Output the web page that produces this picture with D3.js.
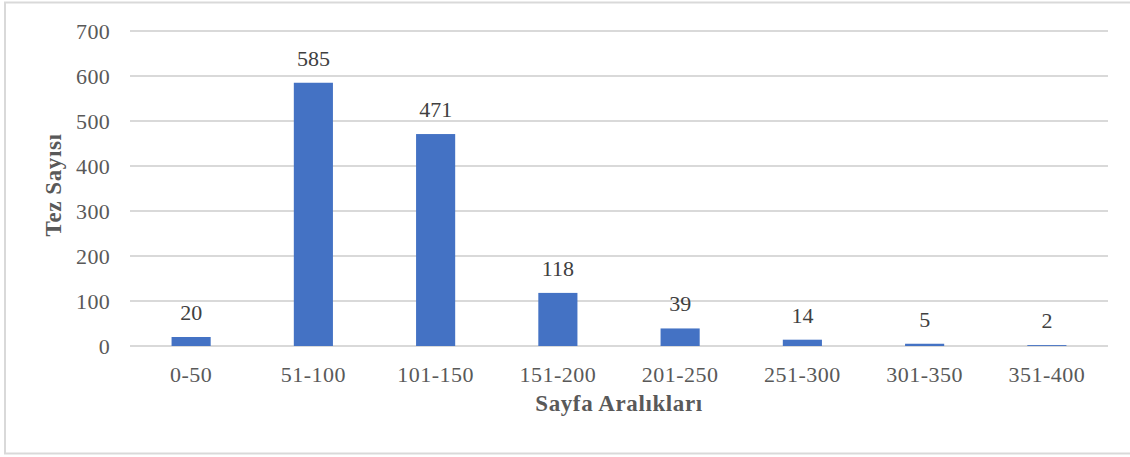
<!DOCTYPE html>
<html><head><meta charset="utf-8">
<script src="https://cdn.jsdelivr.net/npm/d3@7"></script>
<style>body{margin:0;background:#fff}svg{display:block}</style>
</head><body><svg id="c" width="1130" height="457"></svg>
<script>
const categories = ["0-50","51-100","101-150","151-200","201-250","251-300","301-350","351-400"];
const values = [20,585,471,118,39,14,5,2];
const yTicks = [0,100,200,300,400,500,600,700];
const xTitle = "Sayfa Aralıkları";
const yTitle = "Tez Sayısı";

const svg = d3.select("#c");
const font = "'Liberation Serif','Times New Roman',serif";
// chart border
svg.append("rect").attr("x",5).attr("y",2.5).attr("width",1140).attr("height",451)
  .attr("fill","none").attr("stroke","#d9d9d9").attr("stroke-width",2);

const m = {left:130, right:1108, top:31, bottom:346};
const x = d3.scaleBand().domain(categories).range([m.left,m.right]).paddingInner(0.68).paddingOuter(0.34);
const y = d3.scaleLinear().domain([0,700]).range([m.bottom,m.top]);

// gridlines
svg.append("g").selectAll("line").data(yTicks).join("line")
  .attr("x1",m.left).attr("x2",m.right).attr("y1",d=>y(d)).attr("y2",d=>y(d))
  .attr("stroke","#d9d9d9").attr("stroke-width",2);

// y axis labels
const yAxis = d3.axisLeft(y).tickValues(yTicks).tickSize(0).tickPadding(0);
const gy = svg.append("g").attr("transform",`translate(${m.left-20},0)`).call(yAxis);
gy.select(".domain").remove();
gy.selectAll("text").attr("font-family",font).attr("font-size",22).attr("fill","#595959").attr("letter-spacing","0.3px");

// x axis labels
const xAxis = d3.axisBottom(x).tickSize(0).tickPadding(0);
const gx = svg.append("g").attr("transform",`translate(0,${m.bottom+20})`).call(xAxis);
gx.select(".domain").remove();
gx.selectAll("text").attr("font-family",font).attr("font-size",22).attr("fill","#595959").attr("letter-spacing","0.5px");

// bars
svg.append("g").selectAll("rect").data(values).join("rect")
  .attr("x",(d,i)=>x(categories[i])).attr("width",x.bandwidth())
  .attr("y",d=>y(d)).attr("height",d=>y(0)-y(d)).attr("fill","#4472c4");

// data labels
svg.append("g").selectAll("text").data(values).join("text")
  .attr("x",(d,i)=>x(categories[i])+x.bandwidth()/2).attr("y",d=>y(d)-17)
  .attr("text-anchor","middle").attr("font-family",font).attr("font-size",22)
  .attr("fill","#404040").text(d=>d);

// axis titles
svg.append("text").attr("x",(m.left+m.right)/2).attr("y",411).attr("text-anchor","middle")
  .attr("font-family",font).attr("font-size",23).attr("font-weight","bold").attr("fill","#595959")
  .attr("letter-spacing","0.6px").text(xTitle);
svg.append("text").attr("transform","translate(61,185) rotate(-90)").attr("text-anchor","middle")
  .attr("font-family",font).attr("font-size",23).attr("font-weight","bold").attr("fill","#595959")
  .attr("letter-spacing","0.6px").text(yTitle);
</script></body></html>
